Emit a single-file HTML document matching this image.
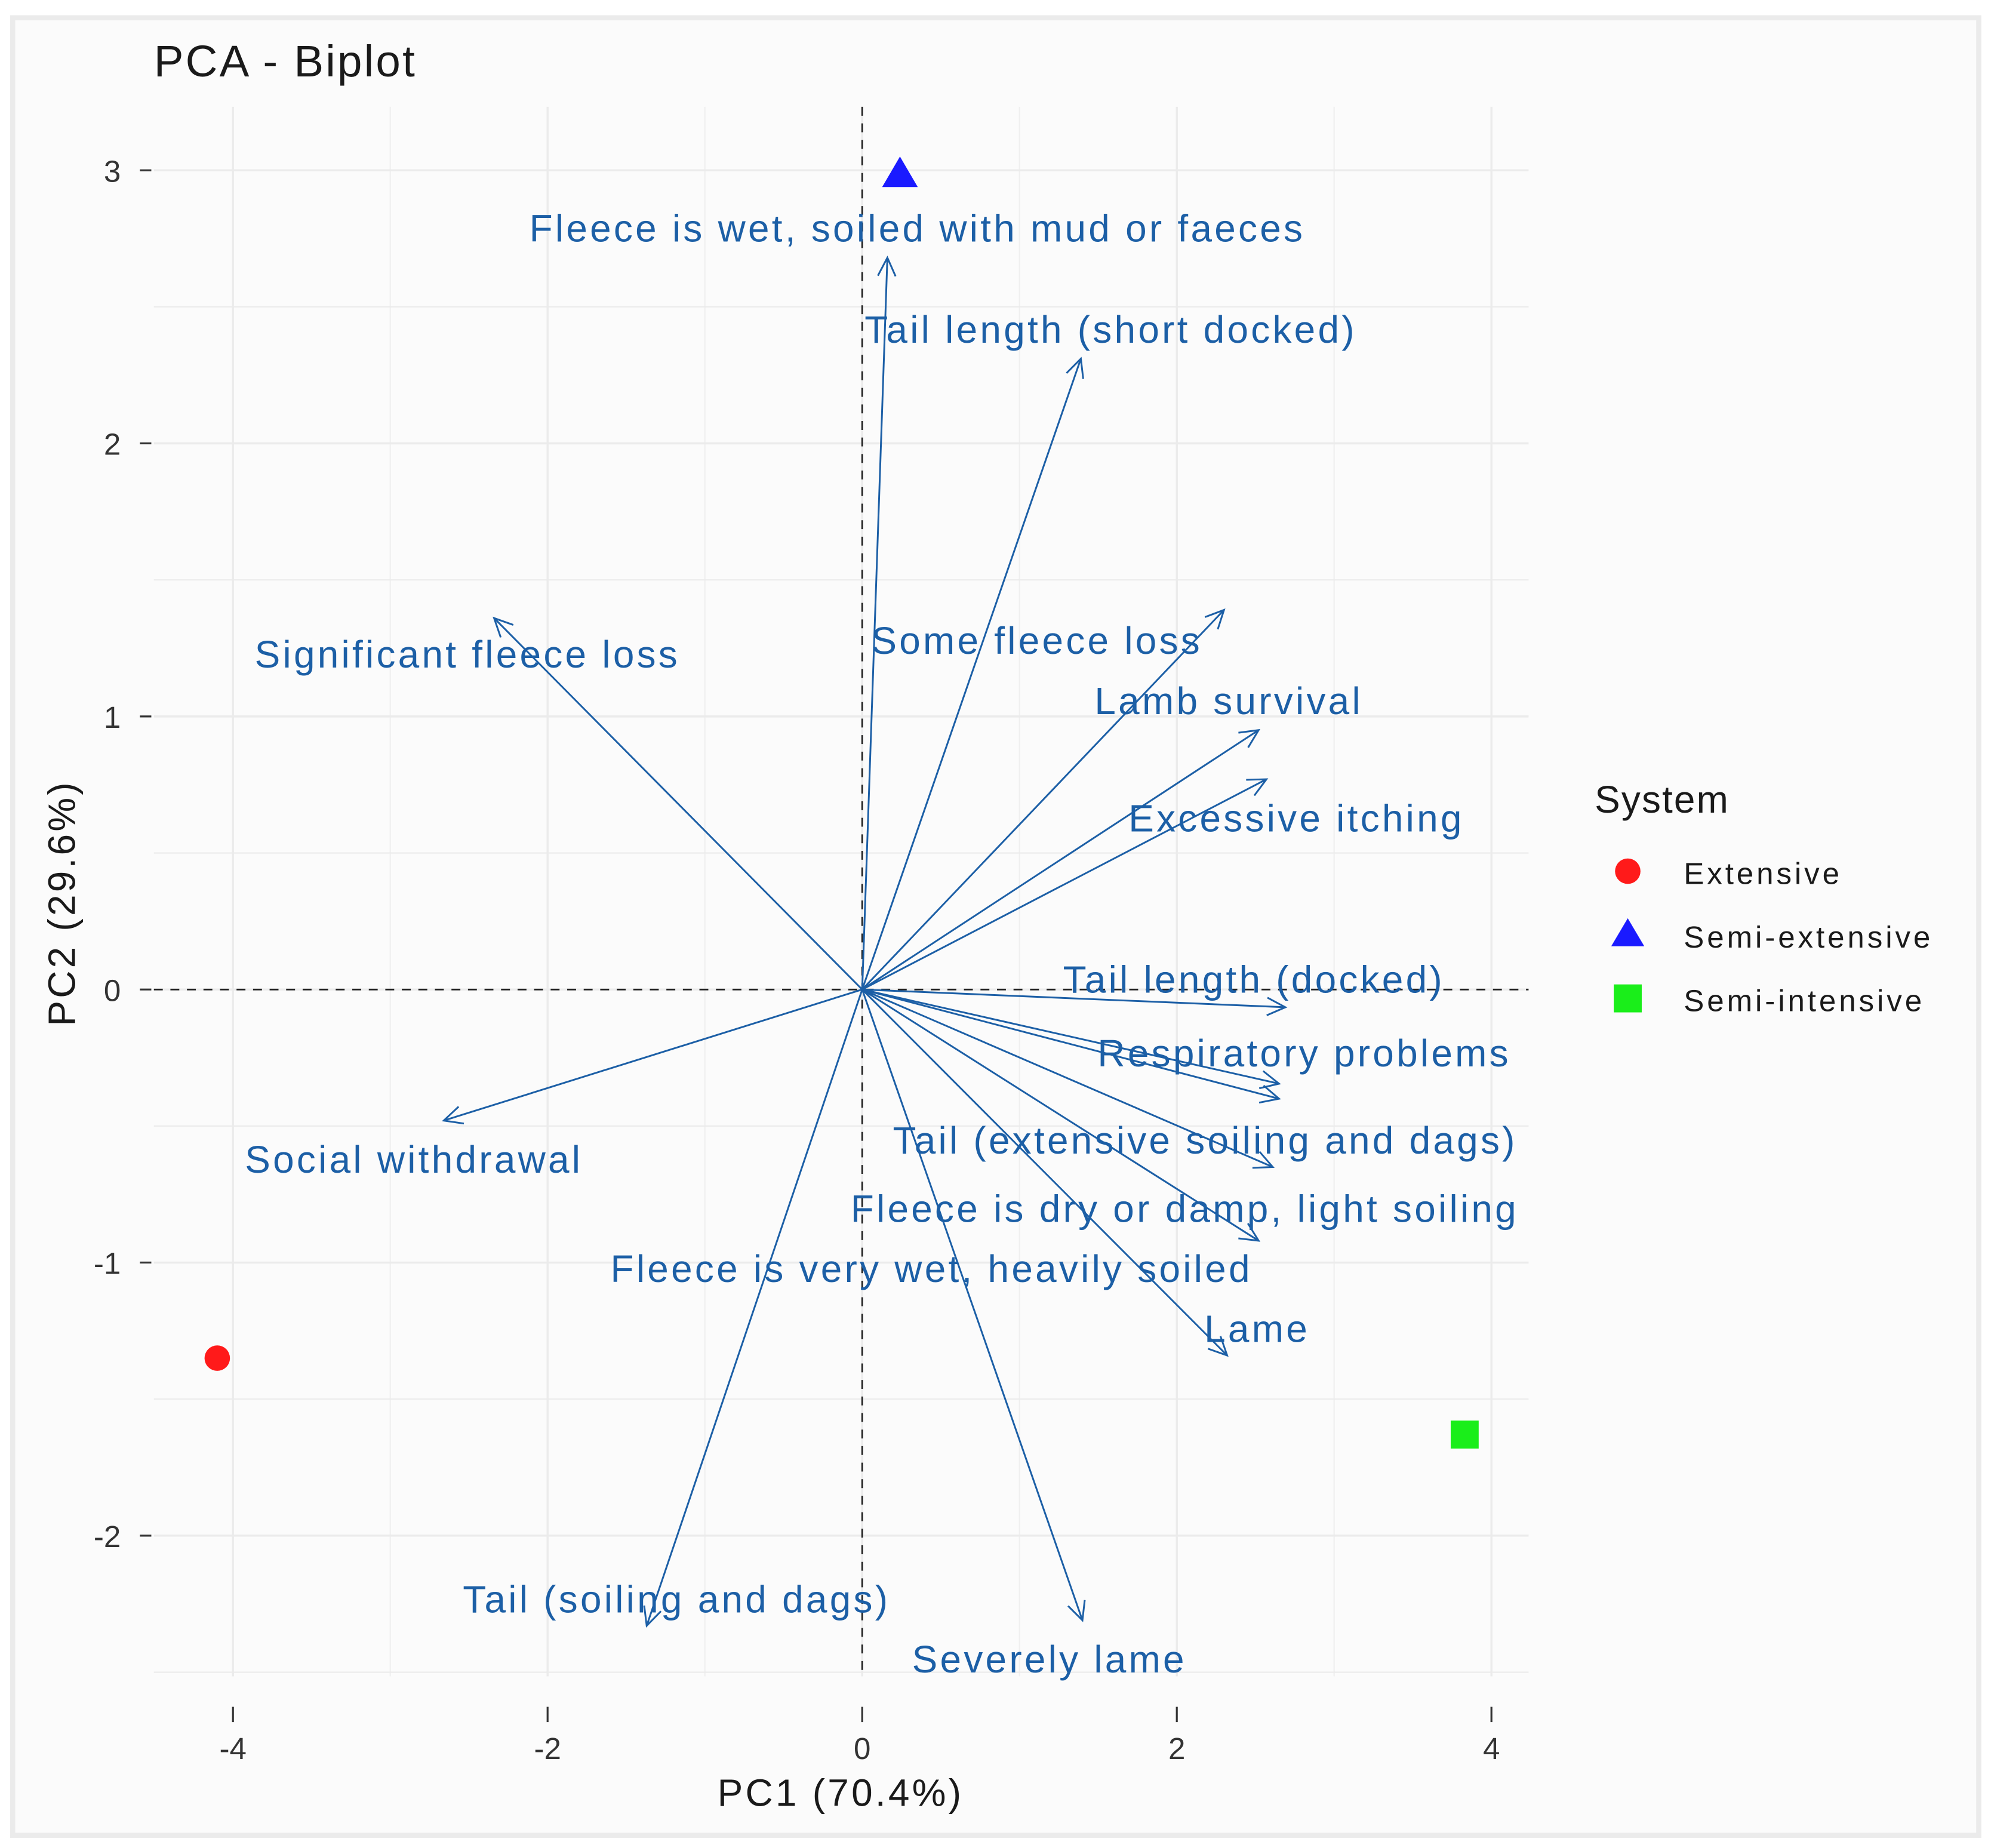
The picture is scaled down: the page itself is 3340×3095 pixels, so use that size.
<!DOCTYPE html>
<html><head><meta charset="utf-8"><style>
html,body{margin:0;padding:0;background:#fff;}
svg{display:block;}
text{font-family:"Liberation Sans",sans-serif;}
</style></head><body>
<svg id="chart" width="3340" height="3095" viewBox="0 0 1568 1453" preserveAspectRatio="none" xmlns="http://www.w3.org/2000/svg">
<rect x="0" y="0" width="1568" height="1453" fill="#ffffff"/>
<rect x="10" y="14" width="1546" height="1429" fill="#fbfbfb" stroke="#ebebeb" stroke-width="4"/>
<text x="121" y="60" font-size="35" letter-spacing="1.5" fill="#1a1a1a">PCA - Biplot</text>
<g id="grid"></g>
<g id="axes"></g>
<g id="arrows"></g>
<g id="labels"></g>
<g id="points"></g>
<text x="661" y="1420" font-size="30" letter-spacing="2" text-anchor="middle" fill="#1a1a1a">PC1 (70.4%)</text>
<text transform="translate(59,710) rotate(-90)" font-size="30" letter-spacing="2" text-anchor="middle" fill="#1a1a1a">PC2 (29.6%)</text>
<g>
<text x="1254" y="639" font-size="30" letter-spacing="1" fill="#1a1a1a">System</text>
<circle cx="1280" cy="685" r="10" fill="#ff1a1a"/>
<text x="1324" y="695" font-size="24" letter-spacing="2.3" fill="#1a1a1a">Extensive</text>
<polygon points="1267,744 1293,744 1280,722" fill="#1a1aff"/>
<text x="1324" y="745" font-size="24" letter-spacing="2.3" fill="#1a1a1a">Semi-extensive</text>
<rect x="1269" y="774" width="22" height="22" fill="#1aee1a"/>
<text x="1324" y="795" font-size="24" letter-spacing="2.3" fill="#1a1a1a">Semi-intensive</text>
</g>
</svg>
<script>
const varNames = ["Fleece is wet, soiled with mud or faeces","Tail length (short docked)","Some fleece loss","Lamb survival","Excessive itching","Significant fleece loss","Tail length (docked)","Respiratory problems","Tail (extensive soiling and dags)","Fleece is dry or damp, light soiling","Fleece is very wet, heavily soiled","Lame","Social withdrawal","Tail (soiling and dags)","Severely lame"];
const arrowPC1 = [0.16,1.39,2.30,2.52,2.57,-2.34,2.69,2.65,2.61,2.52,2.65,2.32,-2.66,-1.37,1.40];
const arrowPC2 = [2.68,2.31,1.39,0.95,0.77,1.36,-0.065,-0.345,-0.65,-0.92,-0.40,-1.34,-0.48,-2.33,-2.31];
const labelPC1 = [0.35,1.58,1.11,2.33,2.76,-2.51,2.49,2.81,2.18,2.05,0.44,2.51,-2.85,-1.18,1.19];
const labelPC2 = [2.79,2.42,1.28,1.06,0.63,1.23,0.04,-0.23,-0.55,-0.80,-1.02,-1.24,-0.62,-2.23,-2.45];
const groups = ["Extensive","Semi-extensive","Semi-intensive"];
const groupPC1 = [-4.10,0.24,3.83];
const groupPC2 = [-1.35,2.99,-1.63];
const xTicks = [-4,-2,0,2,4];
const yTicks = [-2,-1,0,1,2,3];

const X0=121,X1=1202,Y0=84,Y1=1318;
const sx = v => 678 + 123.7*v;
const sy = v => 778 - 214.7*v;
const NS="http://www.w3.org/2000/svg";
function mk(tag, attrs, parent){const e=document.createElementNS(NS,tag);for(const k in attrs)e.setAttribute(k,attrs[k]);parent.appendChild(e);return e;}
const grid=document.getElementById('grid'), axes=document.getElementById('axes');
for(let v=-3; v<=3; v+=2){
  const l=mk('line',{x1:sx(v),x2:sx(v),y1:Y0,y2:Y1,stroke:'#efefef','stroke-width':1},grid);
  
  }
for(let v=-2.5; v<=3.01; v+=0.5){
  const l=mk('line',{x1:X0,x2:X1,y1:sy(v),y2:sy(v),stroke:'#ebebeb','stroke-width':(Math.abs(v%1)<1e-6?1.6:1)},grid);
  
  }
xTicks.forEach(v=>{
  const l=mk('line',{x1:sx(v),x2:sx(v),y1:Y0,y2:Y1,stroke:'#ebebeb','stroke-width':1.6},grid);
  
  
  const t=mk('text',{x:sx(v),y:1383,'font-size':24,'text-anchor':'middle',fill:'#333'},axes);
  t.textContent=String(v);
  
  
  const tk=mk('line',{x1:sx(v),x2:sx(v),y1:Y1+24,y2:Y1+36,stroke:'#333','stroke-width':1.5},axes);
  
  
});
yTicks.forEach(v=>{
  const t=mk('text',{x:95,y:sy(v)+9,'font-size':24,'text-anchor':'end',fill:'#333'},axes);
  t.textContent=String(v);
  
  
  const tk=mk('line',{x1:110,x2:119,y1:sy(v),y2:sy(v),stroke:'#333','stroke-width':1.5},axes);
  
  
});
const hz=mk('line',{x1:X0,x2:X1,y1:sy(0),y2:sy(0),stroke:'#222','stroke-width':1.3,'stroke-dasharray':'7,6'},axes);


const vz=mk('line',{x1:sx(0),x2:sx(0),y1:Y0,y2:Y1,stroke:'#222','stroke-width':1.3,'stroke-dasharray':'7,6'},axes);



const arrows=document.getElementById('arrows'), labels=document.getElementById('labels');
const COL='#1c5fa6';
varNames.forEach((n,i)=>{
  const x2=sx(arrowPC1[i]), y2=sy(arrowPC2[i]), x1=sx(0), y1=sy(0);
  const g=mk('g',{},arrows);
  
  
  mk('line',{x1:x1,y1:y1,x2:x2,y2:y2,stroke:COL,'stroke-width':1.4},g);
  const a=Math.atan2(y2-y1,x2-x1), L=16, w=0.45;
  const p=`M${x2-L*Math.cos(a-w)},${y2-L*Math.sin(a-w)} L${x2},${y2} L${x2-L*Math.cos(a+w)},${y2-L*Math.sin(a+w)}`;
  mk('path',{d:p,fill:'none',stroke:COL,'stroke-width':1.4},g);
  const t=mk('text',{x:sx(labelPC1[i]),y:sy(labelPC2[i])+11,'font-size':30,'letter-spacing':2,'text-anchor':'middle',fill:COL},labels);
  t.textContent=n;
  
  
});
const pts=document.getElementById('points');
groups.forEach((gname,i)=>{
  const x=sx(groupPC1[i]), y=sy(groupPC2[i]); let e;
  if(i===0) e=mk('circle',{cx:x,cy:y,r:10,fill:'#ff1a1a'},pts);
  else if(i===1) e=mk('polygon',{points:`${x-14},${y+11} ${x+14},${y+11} ${x},${y-13}`,fill:'#1a1aff'},pts);
  else e=mk('rect',{x:x-11,y:y-11,width:22,height:22,fill:'#1aee1a'},pts);
  
  
});
</script>
</body></html>
